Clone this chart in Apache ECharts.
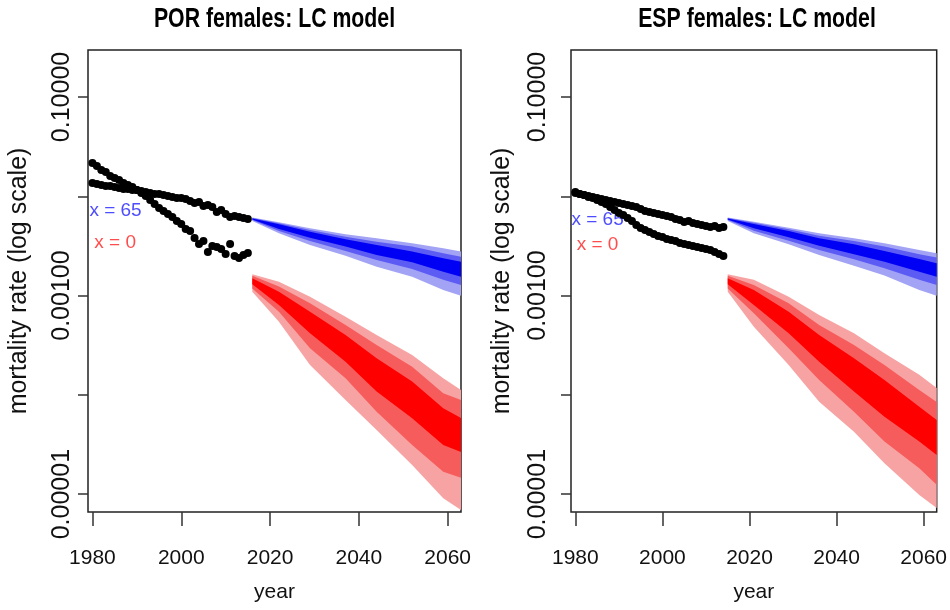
<!DOCTYPE html>
<html>
<head>
<meta charset="utf-8">
<script src="https://cdn.jsdelivr.net/npm/echarts@6/dist/echarts.min.js"></script>
<style>
  html, body { margin: 0; padding: 0; background: #fff; }
  #main { width: 950px; height: 610px; }
</style>
</head>
<body>
<div id="main"></div>
<script>
function range(a, b) { var r = []; for (var i = a; i <= b; i++) r.push(i); return r; }

// observed female mortality rates
var porYears = range(1980, 2015);
var porAge0 = [0.02164, 0.02019, 0.01840, 0.01757, 0.01601, 0.01529, 0.01459, 0.01361, 0.01300, 0.01241,
  0.01157, 0.01079, 0.01007, 0.00918, 0.00837, 0.00762, 0.00711, 0.00663, 0.00619, 0.00564,
  0.00526, 0.00469, 0.00447, 0.00380, 0.00331, 0.00355, 0.00275, 0.00316, 0.00309, 0.00295,
  0.00262, 0.00331, 0.00250, 0.00239, 0.00256, 0.00269];
var porAge65 = [0.01361, 0.01330, 0.01300, 0.01270, 0.01270, 0.01241, 0.01212, 0.01185, 0.01185, 0.01157,
  0.01157, 0.01131, 0.01105, 0.01079, 0.01055, 0.01055, 0.01030, 0.01007, 0.00984, 0.00961,
  0.00961, 0.00939, 0.00897, 0.00856, 0.00876, 0.00799, 0.00818, 0.00780, 0.00695, 0.00728,
  0.00663, 0.00619, 0.00633, 0.00619, 0.00605, 0.00591];

var espYears = range(1980, 2014);
var espAge0 = [0.01105, 0.01055, 0.01030, 0.00984, 0.00961, 0.00918, 0.00876, 0.00837, 0.00780, 0.00728,
  0.00679, 0.00648, 0.00605, 0.00564, 0.00514, 0.00479, 0.00458, 0.00437, 0.00417, 0.00398,
  0.00389, 0.00372, 0.00363, 0.00355, 0.00339, 0.00331, 0.00323, 0.00316, 0.00309, 0.00301,
  0.00295, 0.00288, 0.00275, 0.00262, 0.00250];
var espAge65 = [0.01079, 0.01055, 0.01030, 0.01007, 0.00984, 0.00961, 0.00939, 0.00918, 0.00897, 0.00876,
  0.00856, 0.00837, 0.00818, 0.00799, 0.00780, 0.00745, 0.00711, 0.00695, 0.00679, 0.00663,
  0.00648, 0.00633, 0.00619, 0.00591, 0.00577, 0.00551, 0.00564, 0.00538, 0.00526, 0.00514,
  0.00502, 0.00491, 0.00502, 0.00479, 0.00491];

// forecast fans: 95 / 80 / 50 % bands (lo, hi)
var porFanYears = [2016, 2022, 2029, 2037, 2044, 2052, 2059, 2063];
var por65Hi95 = [6.12e-3, 5.47e-3, 4.76e-3, 4.14e-3, 3.78e-3, 3.36e-3, 2.99e-3, 2.77e-3];
var por65Hi80 = [6.05e-3, 5.35e-3, 4.58e-3, 3.92e-3, 3.49e-3, 3.11e-3, 2.67e-3, 2.46e-3];
var por65Hi50 = [5.98e-3, 5.22e-3, 4.40e-3, 3.69e-3, 3.23e-3, 2.77e-3, 2.37e-3, 2.19e-3];
var por65Lo50 = [5.84e-3, 4.69e-3, 3.83e-3, 3.11e-3, 2.56e-3, 2.16e-3, 1.74e-3, 1.55e-3];
var por65Lo80 = [5.77e-3, 4.47e-3, 3.55e-3, 2.81e-3, 2.28e-3, 1.85e-3, 1.44e-3, 1.28e-3];
var por65Lo95 = [5.64e-3, 4.24e-3, 3.23e-3, 2.52e-3, 1.95e-3, 1.55e-3, 1.14e-3, 9.98e-4];
var por0Hi95 = [1.64e-3, 1.38e-3, 9.75e-4, 6.13e-4, 4.01e-4, 2.52e-4, 1.47e-4, 1.12e-4];
var por0Hi80 = [1.58e-3, 1.23e-3, 8.36e-4, 5.06e-4, 3.18e-4, 1.92e-4, 1.04e-4, 8.88e-5];
var por0Hi50 = [1.49e-3, 1.09e-3, 6.88e-4, 4.01e-4, 2.34e-4, 1.36e-4, 7.33e-5, 5.85e-5];
var por0Lo50 = [1.30e-3, 8.04e-4, 4.17e-4, 2.16e-4, 1.08e-4, 5.81e-5, 3.13e-5, 2.66e-5];
var por0Lo80 = [1.18e-3, 6.88e-4, 2.95e-4, 1.47e-4, 6.77e-5, 3.13e-5, 1.68e-5, 1.46e-5];
var por0Lo95 = [1.09e-3, 5.46e-4, 2.00e-4, 8.88e-5, 4.43e-5, 1.97e-5, 9.09e-6, 6.93e-6];

var espFanYears = [2015, 2021, 2029, 2036, 2044, 2051, 2059, 2063];
var esp65Hi95 = [6.12e-3, 5.55e-3, 4.83e-3, 4.24e-3, 3.78e-3, 3.36e-3, 2.88e-3, 2.67e-3];
var esp65Hi80 = [6.05e-3, 5.42e-3, 4.65e-3, 4.01e-3, 3.55e-3, 3.11e-3, 2.61e-3, 2.41e-3];
var esp65Hi50 = [5.98e-3, 5.26e-3, 4.47e-3, 3.78e-3, 3.28e-3, 2.81e-3, 2.34e-3, 2.11e-3];
var esp65Lo50 = [5.84e-3, 4.76e-3, 3.86e-3, 3.18e-3, 2.61e-3, 2.19e-3, 1.74e-3, 1.55e-3];
var esp65Lo80 = [5.77e-3, 4.50e-3, 3.57e-3, 2.88e-3, 2.32e-3, 1.88e-3, 1.44e-3, 1.28e-3];
var esp65Lo95 = [5.64e-3, 4.24e-3, 3.28e-3, 2.56e-3, 2.00e-3, 1.59e-3, 1.14e-3, 9.98e-4];
var esp0Hi95 = [1.64e-3, 1.44e-3, 9.75e-4, 6.38e-4, 4.17e-4, 2.62e-4, 1.59e-4, 1.17e-4];
var esp0Hi80 = [1.58e-3, 1.28e-3, 8.36e-4, 5.06e-4, 3.18e-4, 2.00e-4, 1.12e-4, 8.48e-5];
var esp0Hi50 = [1.49e-3, 1.14e-3, 6.88e-4, 4.01e-4, 2.34e-4, 1.41e-4, 7.60e-5, 5.59e-5];
var esp0Lo50 = [1.30e-3, 8.04e-4, 4.17e-4, 2.16e-4, 1.08e-4, 6.03e-5, 3.38e-5, 2.48e-5];
var esp0Lo80 = [1.18e-3, 6.63e-4, 2.95e-4, 1.41e-4, 6.77e-5, 3.38e-5, 1.82e-5, 1.24e-5];
var esp0Lo95 = [1.09e-3, 4.86e-4, 2.00e-4, 8.54e-5, 4.26e-5, 2.05e-5, 9.81e-6, 7.26e-6];

// axes
var xTicks = [1980, 2000, 2020, 2040, 2060];
var yTicks = [-5, -4, -3, -2, -1];   // log10(rate)
var yLabels = [-5, -3, -1];
var titles = ['POR females: LC model', 'ESP females: LC model'];
var ageLabels = ['x = 65', 'x = 0'];
var porLabelPos = [[1985.2, 0.00711], [1985.1, 0.00339]];
var espLabelPos = [[1985.1, 0.00577], [1985.1, 0.00323]];

var font = "'Liberation Sans', Arial, sans-serif";
var logMin = -5.18, logMax = -0.527;

var blues = ['#a3a3f6', '#5c5cf4', '#0000f5'];
var reds = ['#f8a3a3', '#f65c5c', '#ff0000'];

var chart = echarts.init(document.getElementById('main'), null, { renderer: 'canvas' });

function zip(xs, ys) {
  return xs.map(function (x, i) { return [x, ys[i]]; });
}

// one filled band between lo and hi, drawn as a single polygon
function band(years, lo, hi, color, p) {
  return {
    type: 'custom',
    xAxisIndex: p,
    yAxisIndex: p * 2,
    silent: true,
    z: 2,
    data: years.map(function (y, i) { return [y, lo[i], hi[i]]; }),
    encode: { x: 0, y: [1, 2] },
    renderItem: function (params, api) {
      if (params.dataIndex !== 0) return null;
      var pts = [], i;
      for (i = 0; i < years.length; i++) pts.push(api.coord([years[i], hi[i]]));
      for (i = years.length - 1; i >= 0; i--) pts.push(api.coord([years[i], lo[i]]));
      return { type: 'polygon', shape: { points: pts }, style: { fill: color } };
    }
  };
}

function fan(years, bands, colors, p) {
  return [
    band(years, bands[0], bands[1], colors[0], p),
    band(years, bands[2], bands[3], colors[1], p),
    band(years, bands[4], bands[5], colors[2], p)
  ];
}

function dots(years, vals, p) {
  return {
    type: 'scatter', xAxisIndex: p, yAxisIndex: p * 2, silent: true, z: 3,
    symbolSize: 8, itemStyle: { color: '#000', opacity: 1 },
    data: zip(years, vals)
  };
}

function ageText(pos, text, color, p) {
  return {
    type: 'scatter', xAxisIndex: p, yAxisIndex: p * 2, silent: true, z: 1,
    symbolSize: 1, itemStyle: { color: 'rgba(0,0,0,0)' },
    label: { show: true, position: 'inside', formatter: text, color: color, fontFamily: font, fontSize: 19 },
    data: [pos]
  };
}

var grids = [
  { left: 88, top: 50, width: 373, height: 462 },
  { left: 571, top: 50, width: 372, height: 462 }
];
var titleCenters = [274.5, 757];
var yLabelMargin = [13, 20];

var option = {
  animation: false,
  backgroundColor: '#fff',
  // titles are squeezed horizontally like the original figure
  graphic: titles.map(function (t, i) {
    return {
      type: 'text', x: titleCenters[i], y: 5, scaleX: 0.76, silent: true,
      style: { text: t, fill: '#000', font: 'bold 28px ' + font, textAlign: 'center', textVerticalAlign: 'top' }
    };
  }),
  grid: grids.map(function (g) {
    return Object.assign({ show: true, borderColor: '#222', borderWidth: 1.5, backgroundColor: 'transparent' }, g);
  }),
  xAxis: [0, 1].map(function (p) {
    return {
      type: 'value', gridIndex: p, min: 1979, max: 2063,
      name: 'year', nameLocation: 'middle', nameGap: 70,
      nameTextStyle: { fontFamily: font, fontSize: 21, color: '#111' },
      axisLine: { show: false },
      axisTick: { show: true, inside: false, length: 14, customValues: xTicks, lineStyle: { color: '#333', width: 1.5 } },
      axisLabel: {
        customValues: xTicks, margin: 36, fontFamily: font, fontSize: 21, color: '#111',
        formatter: function (v) { return String(v); }
      },
      splitLine: { show: false }
    };
  }),
  yAxis: [],
  series: []
};

[0, 1].forEach(function (p) {
  option.yAxis.push({
    type: 'log', logBase: 10, gridIndex: p, show: false, position: 'right',
    min: Math.pow(10, logMin), max: Math.pow(10, logMax)
  });
  option.yAxis.push({
    type: 'value', gridIndex: p, position: 'left', min: logMin, max: logMax,
    name: 'mortality rate (log scale)', nameLocation: 'middle', nameGap: 56,
    nameTextStyle: { fontFamily: font, fontSize: 25, color: '#111' },
    axisLine: { show: false },
    axisTick: { show: true, inside: false, length: 10, customValues: yTicks, lineStyle: { color: '#333', width: 1.5 } },
    axisLabel: {
      customValues: yLabels, rotate: 90, margin: yLabelMargin[p],
      fontFamily: font, fontSize: 25, color: '#111',
      formatter: function (v) { return Math.pow(10, v).toFixed(5); }
    },
    splitLine: { show: false }
  });
});

option.series = []
  .concat(fan(porFanYears, [por65Lo95, por65Hi95, por65Lo80, por65Hi80, por65Lo50, por65Hi50], blues, 0))
  .concat(fan(porFanYears, [por0Lo95, por0Hi95, por0Lo80, por0Hi80, por0Lo50, por0Hi50], reds, 0))
  .concat(fan(espFanYears, [esp65Lo95, esp65Hi95, esp65Lo80, esp65Hi80, esp65Lo50, esp65Hi50], blues, 1))
  .concat(fan(espFanYears, [esp0Lo95, esp0Hi95, esp0Lo80, esp0Hi80, esp0Lo50, esp0Hi50], reds, 1))
  .concat([
    ageText(porLabelPos[0], ageLabels[0], '#2020ff', 0),
    ageText(porLabelPos[1], ageLabels[1], '#ff2020', 0),
    ageText(espLabelPos[0], ageLabels[0], '#2020ff', 1),
    ageText(espLabelPos[1], ageLabels[1], '#ff2020', 1),
    dots(porYears, porAge0, 0),
    dots(porYears, porAge65, 0),
    dots(espYears, espAge0, 1),
    dots(espYears, espAge65, 1)
  ]);

chart.setOption(option);
</script>
</body>
</html>
